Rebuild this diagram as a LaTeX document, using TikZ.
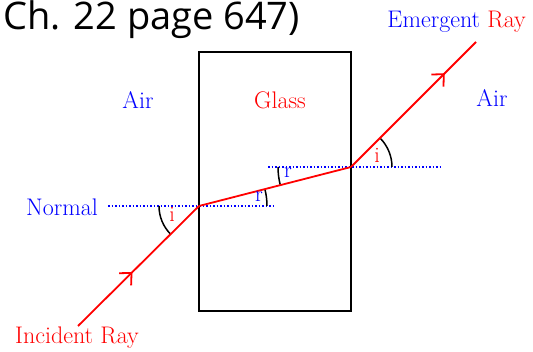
\documentclass[tikz,border=0pt]{standalone}
\usepackage{fontspec}
\newfontfamily\titlefont{Open Sans}
\usetikzlibrary{angles,arrows.meta,decorations.markings}

\tikzset{
  ray/.style={red, line width=1.8pt},
  normalline/.style={blue, dotted, line width=1.5pt},
  glassbox/.style={black, line width=1.6pt},
  anglearc/.style={draw=black, line width=1.5pt},
  lbl/.style={font=\fontsize{22}{26}\selectfont, inner sep=0pt},
  bigl/.style={font=\fontsize{24}{28}\selectfont, inner sep=0pt},
  raytip/.style={postaction={decorate, decoration={markings,
      mark=at position #1 with {\arrow{Straight Barb[length=9pt, width=17pt, line width=1.8pt]}}}}}
}

\begin{document}
\begin{tikzpicture}[x=1pt, y=1pt]

  \useasboundingbox (0,0) rectangle (533,351);

  % Glass block
  \def\leftofs{199}
  \def\rightofs{351}
  \draw[glassbox] (\leftofs,40) rectangle (\rightofs,299);

  % Points on the ray
  \coordinate (src) at (78,25);
  \coordinate (entry) at (\leftofs,145);
  \coordinate (exit) at (\rightofs,184);
  \coordinate (dst) at (476,309);

  % Normals
  \coordinate (nAl) at (108,145);
  \coordinate (nAr) at (276,145);
  \coordinate (nBl) at (268,184);
  \coordinate (nBr) at (440,184);
  \draw[normalline] (nAl) -- (nAr);
  \draw[normalline] (nBl) -- (nBr);

  % Angles
  \pic[anglearc, angle radius=40pt] {angle = nAl--entry--src};
  \pic[anglearc, angle radius=68pt] {angle = nAr--entry--exit};
  \pic[anglearc, angle radius=73pt] {angle = nBl--exit--entry};
  \pic[anglearc, angle radius=41pt] {angle = nBr--exit--dst};

  % Ray
  \draw[ray, raytip=0.45] (src) -- (entry);
  \draw[ray] (entry) -- (exit);
  \draw[ray, raytip=0.75] (exit) -- (dst);

  % Angle labels
  \node[lbl, red] (iA) at (172,137) {i};
  \node[lbl, blue] (rA) at (259,154) {r};
  \node[lbl, blue] (rB) at (288,178) {r};
  \node[lbl, red] (iB) at (377,196) {i};

  % Texts
  \node[anchor=west, inner sep=0pt, font=\titlefont\fontsize{38}{42}\selectfont] (title) at (3,331) {Ch. 22 page 647)};
  \node[bigl, blue] (airL) at (138,251) {Air};
  \node[bigl, red] (glass) at (280,251) {Glass};
  \node[bigl, blue] (airR) at (492,253) {Air};
  \node[bigl, blue] (normal) at (62,144) {Normal};
  \node[bigl, red] (incident) at (77,13) {Incident Ray};
  \node[bigl, anchor=east] (emergent) at (526,329) {\textcolor{blue}{Emergent} \textcolor{red}{Ray}};

\end{tikzpicture}
\end{document}
